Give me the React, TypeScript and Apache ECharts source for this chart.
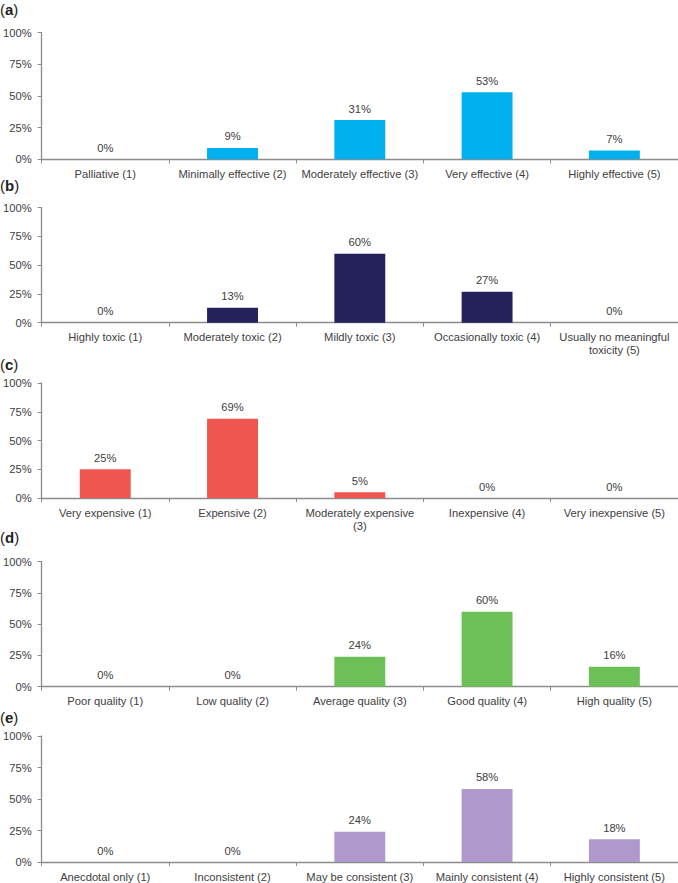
import React, { useEffect, useRef } from "react";
import * as echarts from "echarts";

const panelLetters = ["a", "b", "c", "d", "e"];

const catsA = ["Palliative (1)", "Minimally effective (2)", "Moderately effective (3)", "Very effective (4)", "Highly effective (5)"];
const catsB = ["Highly toxic (1)", "Moderately toxic (2)", "Mildly toxic (3)", "Occasionally toxic (4)", "Usually no meaningful\ntoxicity (5)"];
const catsC = ["Very expensive (1)", "Expensive (2)", "Moderately expensive\n(3)", "Inexpensive (4)", "Very inexpensive (5)"];
const catsD = ["Poor quality (1)", "Low quality (2)", "Average quality (3)", "Good quality (4)", "High quality (5)"];
const catsE = ["Anecdotal only (1)", "Inconsistent (2)", "May be consistent (3)", "Mainly consistent (4)", "Highly consistent (5)"];

const valuesA = [0, 9, 31, 53, 7];
const valuesB = [0, 13, 60, 27, 0];
const valuesC = [25, 69, 5, 0, 0];
const valuesD = [0, 0, 24, 60, 16];
const valuesE = [0, 0, 24, 58, 18];

const yTicks = [0, 25, 50, 75, 100];

const colors = ["#00B1EE", "#25215B", "#EF5650", "#6DBF58", "#AF99CC"];

// layout (pixels)
const gridTops = [32.7, 207.7, 383, 561.7, 736];
const gridHeights = [126.6, 115, 115, 125, 126.7];
const titleCenters = [8, 185.7, 364, 537, 717];

const FONT = "'Liberation Sans', Arial, Helvetica, sans-serif";
const TEXT = "#404040";
const AXIS = "#8C8C8C";

export default function App() {
  const ref = useRef<HTMLDivElement>(null);
  useEffect(() => {
    if (!ref.current) return;
    const chart = echarts.init(ref.current, undefined, { renderer: "svg" });
    const cats = [catsA, catsB, catsC, catsD, catsE];
    const vals = [valuesA, valuesB, valuesC, valuesD, valuesE];
    const option: any = {
      animation: false,
      backgroundColor: "#ffffff",
      title: panelLetters.map((l, i) => ({
        text: `{p|(}{b|${l}}{p|)}`,
        left: 0,
        top: Math.max(1, titleCenters[i] - 8),
        padding: 0,
        textStyle: {
          rich: {
            p: { fontFamily: FONT, fontSize: 15, lineHeight: 16, color: "#222", fontWeight: "normal" },
            b: { fontFamily: FONT, fontSize: 15, lineHeight: 16, color: "#222", fontWeight: "bold" },
          },
        },
      })),
      grid: panelLetters.map((_, i) => ({
        left: 41,
        right: 0,
        top: gridTops[i],
        height: gridHeights[i],
        containLabel: false,
      })),
      xAxis: panelLetters.map((_, i) => ({
        type: "category",
        gridIndex: i,
        data: cats[i],
        boundaryGap: true,
        axisLine: { show: true, lineStyle: { color: AXIS, width: 1.3 } },
        axisTick: { show: true, length: 4, interval: 0, lineStyle: { color: AXIS } },
        axisLabel: {
          interval: 0,
          margin: 8,
          fontFamily: FONT,
          fontSize: 11.2,
          color: TEXT,
          lineHeight: 13,
          align: "center",
        },
        splitLine: { show: false },
      })),
      yAxis: panelLetters.map((_, i) => ({
        type: "value",
        gridIndex: i,
        min: yTicks[0],
        max: yTicks[yTicks.length - 1],
        interval: 25,
        axisLine: { show: true, lineStyle: { color: AXIS, width: 1.3 } },
        axisTick: { show: true, length: 4, lineStyle: { color: AXIS } },
        axisLabel: {
          formatter: "{value}%",
          margin: 10,
          fontFamily: FONT,
          fontSize: 11.2,
          color: TEXT,
        },
        splitLine: { show: false },
      })),
      series: panelLetters.map((_, i) => ({
        type: "bar",
        xAxisIndex: i,
        yAxisIndex: i,
        data: vals[i],
        barWidth: "40%",
        itemStyle: { color: colors[i] },
        label: {
          show: true,
          position: "top",
          distance: 6,
          formatter: "{c}%",
          fontFamily: FONT,
          fontSize: 11.2,
          color: TEXT,
        },
      })),
    };
    chart.setOption(option);
    return () => chart.dispose();
  }, []);
  return (
    <div
      ref={ref}
      style={{ position: "absolute", left: 0, top: 0, width: 678, height: 883, background: "#fff" }}
    />
  );
}
